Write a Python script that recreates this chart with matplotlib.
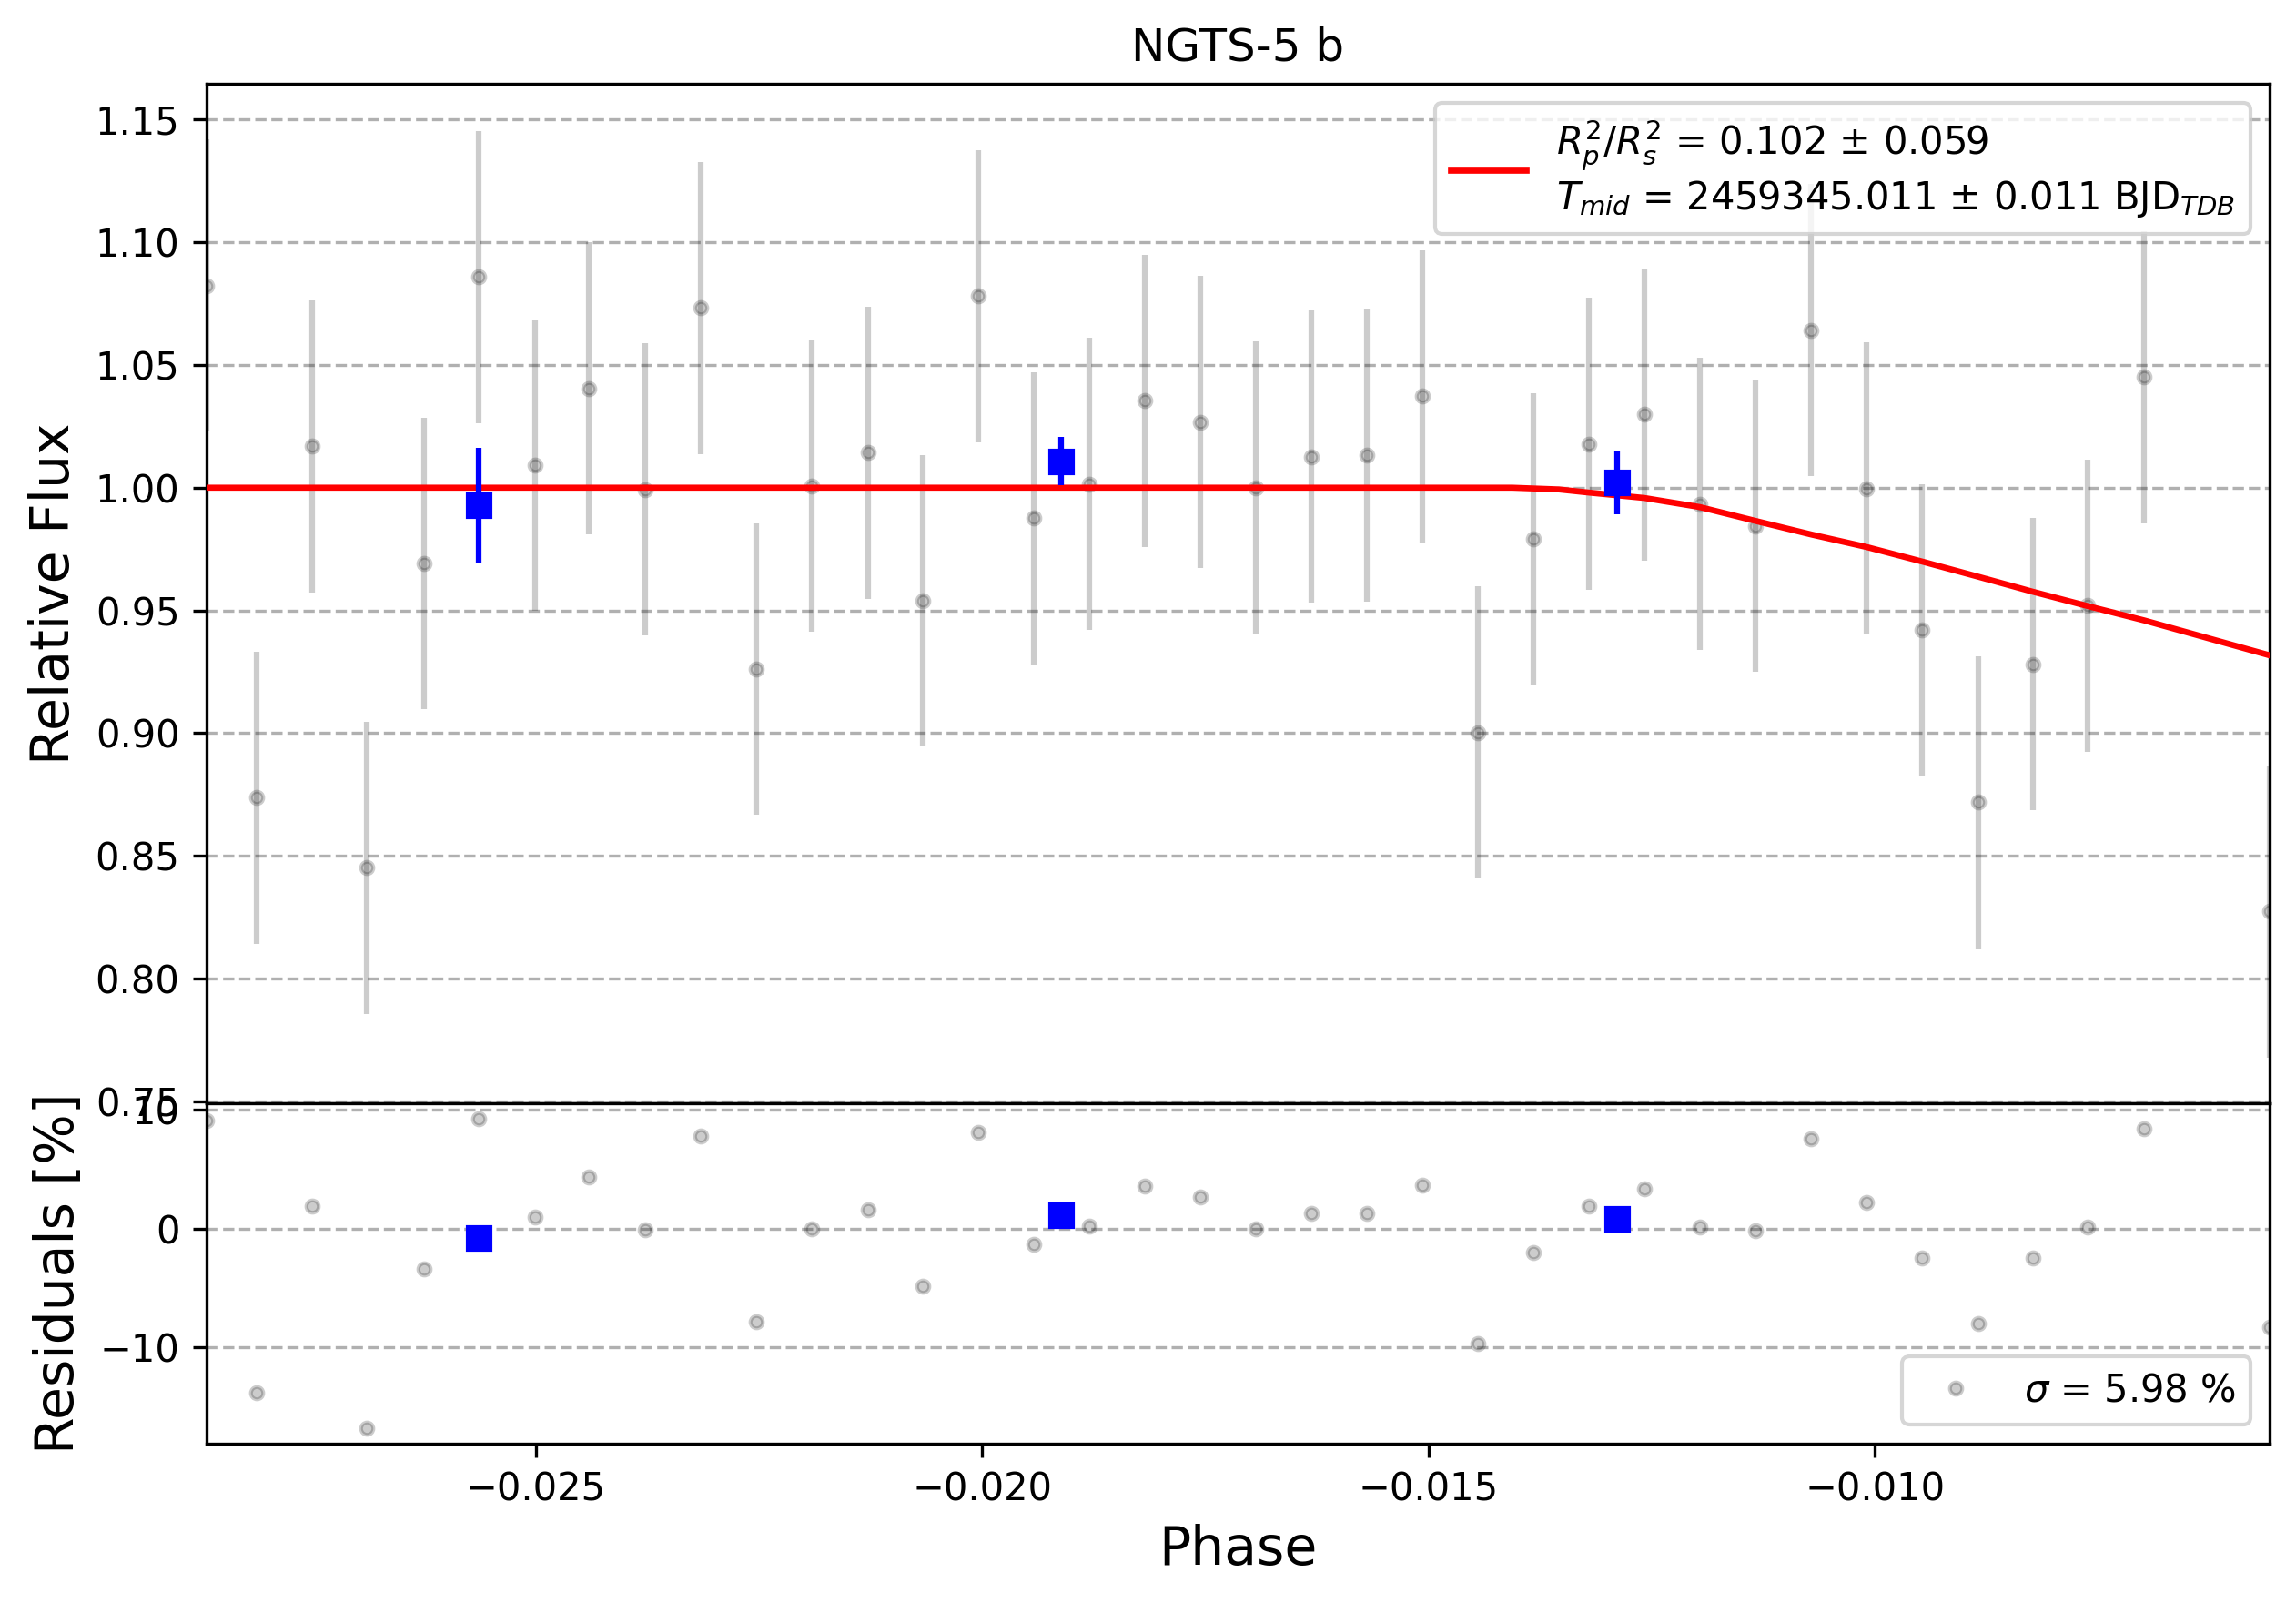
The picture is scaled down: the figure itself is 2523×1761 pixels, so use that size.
import matplotlib
matplotlib.use('Agg')
import matplotlib.pyplot as plt
import numpy as np

# phase-folded light curve
phase = [-0.028690, -0.028120, -0.027501, -0.026887, -0.026253, -0.025633, -0.025009,
         -0.024400, -0.023776, -0.023151, -0.022532, -0.021907, -0.021278, -0.020665,
         -0.020041, -0.019416, -0.018797, -0.018172, -0.017553, -0.016929, -0.016314,
         -0.015695, -0.015066, -0.014446, -0.013828, -0.013203, -0.012578, -0.011957,
         -0.011337, -0.010711, -0.010091, -0.009471, -0.008845, -0.008230, -0.007615,
         -0.006984, -0.005579]
flux = [1.0824, 0.8737, 1.0169, 0.8452, 0.9691, 1.0859, 1.0092, 1.0405, 0.9993, 1.0733,
        0.9261, 1.0007, 1.0143, 0.9539, 1.0781, 0.9876, 1.0015, 1.0354, 1.0268, 1.0001,
        1.0127, 1.0132, 1.0373, 0.9002, 0.9790, 1.0178, 1.0298, 0.9934, 0.9844, 1.0642,
        0.9996, 0.9419, 0.8719, 0.9280, 0.9520, 1.0450, 0.8273]
flux_err = [0.0595] * 37
resid = [9.08, -13.85, 1.87, -16.82, -3.38, 9.23, 1.00, 4.31, -0.10, 7.77, -7.85, 0.00,
         1.56, -4.85, 8.08, -1.31, 0.18, 3.54, 2.69, 0.00, 1.31, 1.31, 3.64, -9.69, -2.00,
         1.92, 3.33, 0.15, -0.15, 7.54, 2.18, -2.44, -8.00, -2.51, 0.13, 8.38, -8.31]

# binned points
bin_phase = [-0.025633, -0.019112, -0.012886]
bin_flux = [0.9928, 1.0108, 1.0023]
bin_err = [0.0236, 0.0098, 0.0130]
bin_resid = [-0.77, 1.15, 0.85]

# transit model curve
model_phase = [-0.028690, -0.01406, -0.01354, -0.01320, -0.01258, -0.01196, -0.01134,
               -0.01071, -0.01009, -0.00947, -0.00885, -0.00823, -0.00762, -0.00698,
               -0.005579]
model_flux = [1.0, 1.0, 0.9993, 0.9980, 0.9958, 0.9921, 0.9865, 0.9809, 0.9758, 0.9699,
              0.9638, 0.9576, 0.9518, 0.9459, 0.9317]

model_label = (r'$R^{2}_{p}/R^{2}_{s}$ = 0.102 ± 0.059' + '\n' +
               r'$T_{mid}$ = 2459345.011 ± 0.011 BJD$_{TDB}$')
sigma_label = r'$\sigma$ = 5.98 %'

fig = plt.figure(figsize=(8.41, 5.87), dpi=300)
ax = fig.add_axes([0.0898, 0.3118, 0.8987, 0.6361])
ax2 = fig.add_axes([0.0898, 0.0994, 0.8987, 0.2124], sharex=ax)

ax.errorbar(phase, flux, yerr=flux_err, fmt='.', color='k', alpha=0.2, ms=6.5, zorder=2)
ax.plot(model_phase, model_flux, 'r-', lw=1.6, label=model_label, zorder=3)
ax.errorbar(bin_phase, bin_flux, yerr=bin_err, fmt='s', color='blue', ms=6, zorder=4)
ax.set_ylabel('Relative Flux', fontsize=14)
ax.set_title('NGTS-5 b', fontsize=12)
ax.grid(True, axis='y', ls='--')
ax.legend(loc='upper right', fontsize=10)
ax.set_ylim(0.7492, 1.1647)
ax.tick_params(axis='x', bottom=False, labelbottom=False)

ax2.plot(phase, resid, '.', color='k', alpha=0.2, ms=6.5, label=sigma_label, zorder=2)
ax2.plot(bin_phase, bin_resid, 's', color='blue', ms=6, zorder=3)
ax2.set_ylabel('Residuals [%]', fontsize=14)
ax2.set_xlabel('Phase', fontsize=14)
ax2.grid(True, axis='y', ls='--')
ax2.legend(loc='lower right', fontsize=10)
ax2.set_ylim(-18.1, 10.55)
ax2.set_xlim(phase[0], phase[-1])

fig.savefig('out.png', dpi=300)
